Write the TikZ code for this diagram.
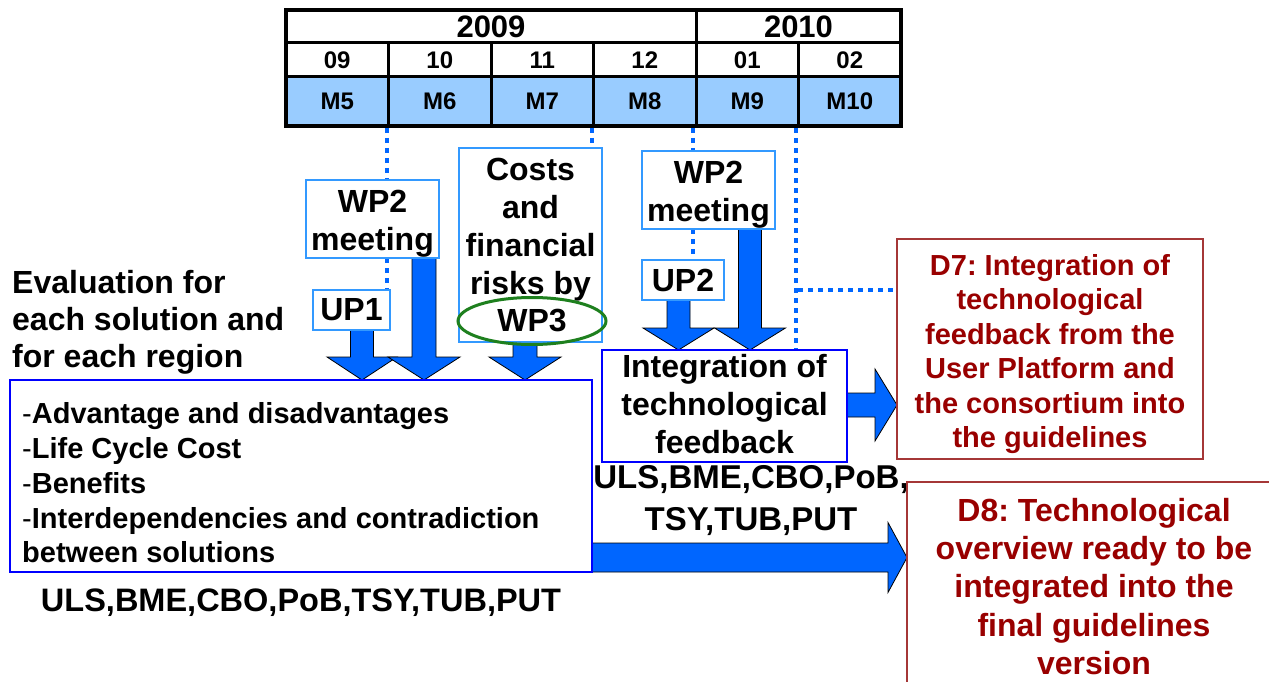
\documentclass[tikz,border=0pt]{standalone}
\usepackage{fontspec}
\setmainfont{Liberation Sans}
\usetikzlibrary{shapes.geometric}
\definecolor{arrowblue}{RGB}{0,102,255}
\definecolor{boxblue}{RGB}{51,153,255}
\definecolor{deepblue}{RGB}{0,0,255}
\definecolor{dred}{RGB}{153,0,0}
\definecolor{dredline}{RGB}{165,55,55}
\definecolor{mblue}{RGB}{153,204,255}
\definecolor{ellgreen}{RGB}{30,128,30}
\newcommand{\fsz}[2]{\fontsize{#1}{#2}\selectfont\bfseries\frenchspacing}
\newcommand{\downblk}[6]{%
  \fill[arrowblue] (#1-#5,#2) -- (#1-#5,#3) -- (#1-#6,#3) -- (#1,#4) -- (#1+#6,#3) -- (#1+#5,#3) -- (#1+#5,#2) -- cycle;
  \draw[blkline] (#1-#5,#2) -- (#1-#5,#3) -- (#1-#6,#3) -- (#1,#4) -- (#1+#6,#3) -- (#1+#5,#3) -- (#1+#5,#2);}
\newcommand{\rightblk}[6]{%
  \fill[arrowblue] (#2,#1-#5) -- (#3,#1-#5) -- (#3,#1-#6) -- (#4,#1) -- (#3,#1+#6) -- (#3,#1+#5) -- (#2,#1+#5) -- cycle;
  \draw[blkline] (#2,#1-#5) -- (#3,#1-#5) -- (#3,#1-#6) -- (#4,#1) -- (#3,#1+#6) -- (#3,#1+#5) -- (#2,#1+#5);}
\begin{document}
\begin{tikzpicture}[x=1pt,y=-1pt,
  lbox/.style={draw=boxblue, line width=1.5pt, fill=white, inner sep=0pt, align=center, font=\fsz{32}{38}},
  bbox/.style={draw=deepblue, line width=1.5pt, fill=white, inner sep=0pt, align=center},
  rbox/.style={draw=dredline, line width=1.5pt, text=dred, align=center, inner sep=0pt, font=\fsz{29}{34.4}},
  dots/.style={draw=arrowblue, line width=4pt, dash pattern=on 5pt off 5pt},
  blkline/.style={draw=black, line width=0.8pt, line join=miter},
  cell/.style={inner sep=0pt, font=\fsz{24}{28}},
  txt/.style={inner sep=0pt, align=center, font=\fsz{32}{38}}]
\useasboundingbox (0,0) rectangle (1269,682);
\fill[white] (0,0) rectangle (1269,682);

% ---- table ----
\fill[mblue] (286,77) rectangle (901,126);
\draw[line width=3pt] (286,43) -- (901,43);
\draw[line width=3pt] (286,77) -- (901,77);
\foreach \xx in {388.5,491,593.5,798.5} \draw[line width=3pt] (\xx,43) -- (\xx,126);
\draw[line width=3pt] (696,10) -- (696,126);
\draw[line width=4pt] (286,10) rectangle (901,126);
\node[cell, font=\fsz{31}{36}] (y2009) at (491,27) {2009};
\node[cell, font=\fsz{31}{36}] (y2010) at (798.5,27) {2010};
\foreach \lab/\xx [count=\i] in {09/337.25,10/439.75,11/542.25,12/644.75,01/747.25,02/849.75}
  \node[cell] (mo\i) at (\xx,60.5) {\lab};
\foreach \lab/\xx [count=\i] in {M5/337.25,M6/439.75,M7/542.25,M8/644.75,M9/747.25,M10/849.75}
  \node[cell] (mm\i) at (\xx,101.5) {\lab};

% ---- dotted lines ----
\coordinate (d1) at (387,128);
\coordinate (d2) at (592,128);
\coordinate (d3) at (693,128);
\coordinate (d4) at (796,128);
\draw[dots] (d1) -- (387,180);
\draw[dots] (387,258) -- (387,290);
\draw[dots] (d2) -- (592,148);
\draw[dots] (d3) -- (693,151);
\draw[dots] (693,229) -- (693,260);
\draw[dots] (d4) -- (796,350);
\draw[dots] (798,290) -- (897,290);

% ---- block arrows ----
\downblk{362}{330}{357}{380}{11.5}{35}
\downblk{424}{258}{357}{380}{12}{36}
\downblk{525}{342}{357}{380}{12}{36}
\downblk{678.5}{300}{328}{350}{11.5}{35.5}
\downblk{750}{229}{328}{350}{11.5}{35.5}
\rightblk{405}{847}{875}{897}{12}{36}
\rightblk{557.5}{592}{888}{907}{14.5}{35}

% ---- boxes ----
\node[lbox, minimum width=133, minimum height=78] (wp2a) at (372.5,219) {};
\node[txt] (wp2atxt) at (372.5,224) {WP2\\meeting};
\node[lbox, minimum width=77, minimum height=40] (up1) at (351.5,310) {UP1};
\node[lbox, minimum width=143, minimum height=194] (costs) at (530.5,245) {};
\node[txt] (coststxt) at (530.5,230) {Costs\\and\\financial\\risks by};
\node[ellipse, draw=ellgreen, line width=3pt, minimum width=148, minimum height=47, inner sep=0pt, font=\fsz{32}{38}] (wp3) at (532,321) {WP3};
\node[lbox, minimum width=133, minimum height=78] (wp2b) at (708.5,190) {};
\node[txt] (wp2btxt) at (708.5,195) {WP2\\meeting};
\node[lbox, minimum width=82, minimum height=40] (up2) at (683,280) {UP2};
\node[bbox, minimum width=245, minimum height=112] (integ) at (724.5,406) {};
\node[txt] (integtxt) at (724.5,404) {Integration of\\technological\\feedback};
\node[rbox, minimum width=306, minimum height=220] (d7) at (1050,349) {};
\node[txt, text=dred, font=\fsz{29}{34.4}] (d7txt) at (1050,354) {D7: Integration of\\technological\\feedback from the\\User Platform and\\the consortium into\\the guidelines};
\node[bbox, minimum width=582, minimum height=192] (evalbox) at (301,476) {};
\node[inner sep=0pt, align=left, anchor=west, font=\fsz{29}{34.7}] (evallist) at (22,483)
  {{\mdseries -}Advantage and disadvantages\\{\mdseries -}Life Cycle Cost\\{\mdseries -}Benefits\\{\mdseries -}Interdependencies and contradiction\\between solutions};
\node[inner sep=0pt, align=left, anchor=west, font=\fsz{32}{37}] (evaltitle) at (12,322) {Evaluation for\\each solution and\\for each region};
\node[txt, font=\fsz{32.5}{40}] (uls1) at (301,603) {ULS,BME,CBO,PoB,TSY,TUB,PUT};
\node[txt, font=\fsz{33}{42}] (uls2) at (751,501) {ULS,BME,CBO,PoB,\\TSY,TUB,PUT};
\coordinate (d8a) at (1275,482);
\coordinate (d8b) at (907,482);
\coordinate (d8c) at (907,690);
\draw[dredline, line width=1.5pt] (d8a) -- (d8b) -- (d8c);
\node[txt, text=dred, font=\fsz{32}{38.3}] (d8) at (1094,586.5) {D8: Technological\\overview ready to be\\integrated into the\\final guidelines\\version};
\end{tikzpicture}
\end{document}
